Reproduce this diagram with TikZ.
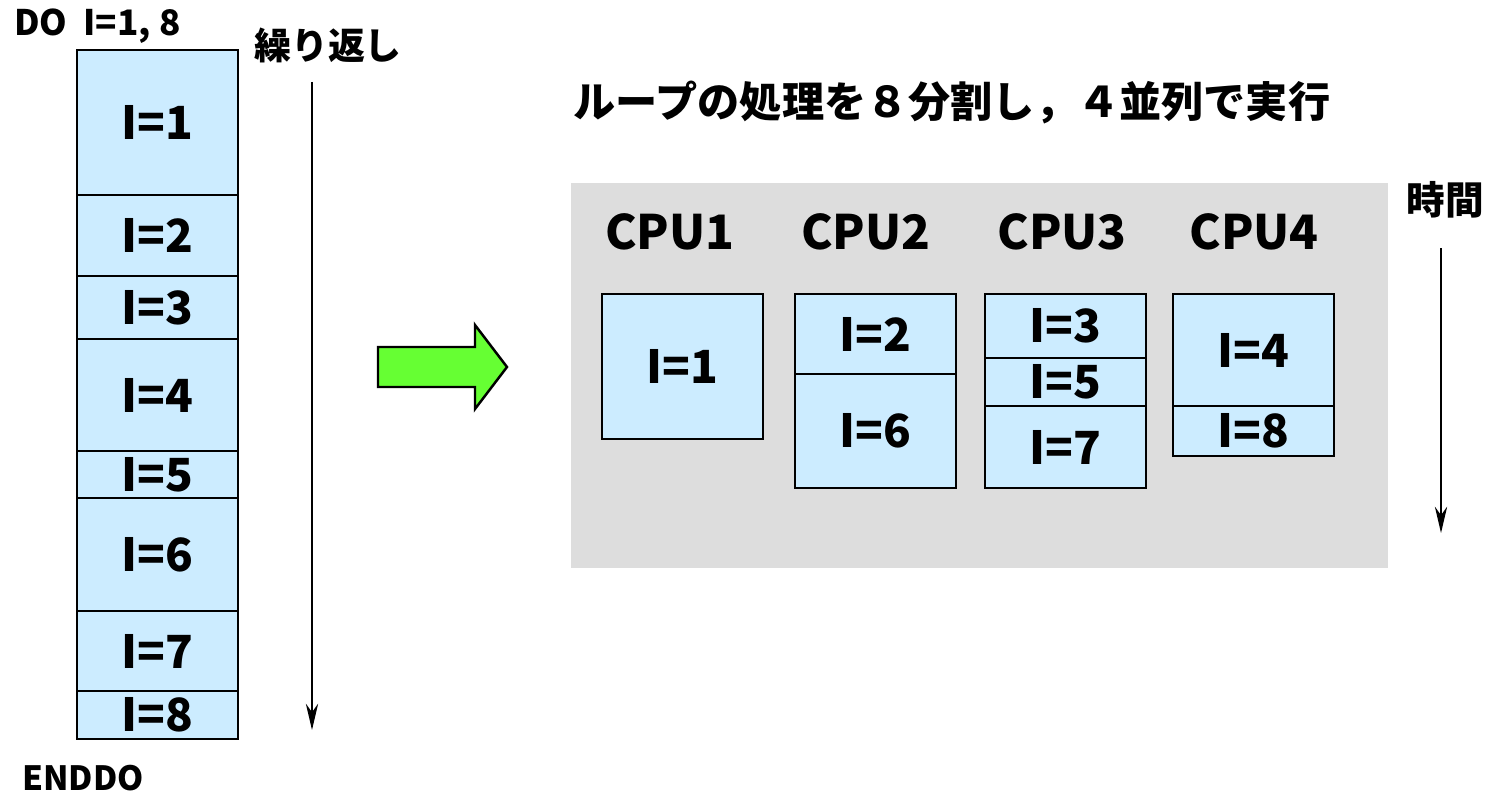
\documentclass[tikz,border=0pt]{standalone}
\usepackage{fontspec}
\setmainfont{Noto Sans CJK JP}
\usetikzlibrary{positioning}
\usetikzlibrary{arrows.meta}
\definecolor{cellblue}{RGB}{204,236,255}
\definecolor{panelgray}{RGB}{221,221,221}
\definecolor{arrowgreen}{RGB}{102,255,51}

\tikzset{
  cell/.style={draw, fill=cellblue, line width=1.4pt, inner sep=0pt, outer sep=0pt,
    minimum width=161*0.02cm, font=\fontsize{26}{30}\selectfont\bfseries},
  tall/.style={minimum height=#1*0.02cm},
  cpu/.style={font=\fontsize{27}{30}\selectfont\bfseries},
  lbl/.style={font=\fontsize{20}{24}\selectfont\bfseries, inner sep=0pt},
  flow/.style={line width=1pt, -{Stealth[length=15pt, width=7pt]}}
}

\begin{document}
\begin{tikzpicture}[x=0.02cm, y=-0.02cm]
		\useasboundingbox (0,0) rectangle (1493,797);
		% sequential loop
		\node[lbl, anchor=west] (do) at (14,26) {DO\ \ I=1, 8};
		\node[cell, tall=145, anchor=north west] (i1) at (77,50) {I=1};
		\node[cell, tall=81, below=0pt of i1] (i2) {I=2};
		\node[cell, tall=63, below=0pt of i2] (i3) {I=3};
		\node[cell, tall=112, below=0pt of i3] (i4) {I=4};
		\node[cell, tall=47, below=0pt of i4] (i5) {I=5};
		\node[cell, tall=113, below=0pt of i5] (i6) {I=6};
		\node[cell, tall=80, below=0pt of i6] (i7) {I=7};
		\node[cell, tall=48, below=0pt of i7] (i8) {I=8};
		\node[lbl, anchor=west, font=\fontsize{19}{24}\selectfont\bfseries] (enddo) at (22,778) {ENDDO};
		\node[lbl, font=\fontsize{21}{24}\selectfont\bfseries] (rep) at (328,45) {繰り返し};
		\coordinate (reptop) at (312,82);
		\coordinate (repbot) at (312,730);
		\draw[flow] (reptop) -- (repbot);
		% green arrow
		\draw[line width=1.4pt, fill=arrowgreen] (378,347) -- (475,347) -- (475,325) -- (507,367)
			-- (475,409) -- (475,387) -- (378,387) -- cycle;
		% parallel execution
		\node[lbl, font=\fontsize{24}{28}\selectfont\bfseries] (title) at (952,103) {ループの処理を８分割し，４並列で実行};
		\fill[panelgray] (571,183) rectangle (1388,568);
		\node[cpu] (cpu1) at (670,232) {CPU1};
		\node[cpu] (cpu2) at (866,232) {CPU2};
		\node[cpu] (cpu3) at (1062,232) {CPU3};
		\node[cpu] (cpu4) at (1254,232) {CPU4};
		\node[cell, tall=145, anchor=north west] (a1) at (602,294) {I=1};
		\node[cell, tall=80, anchor=north west] (b2) at (795,294) {I=2};
		\node[cell, tall=114, below=0pt of b2] (b6) {I=6};
		\node[cell, tall=64, anchor=north west] (c3) at (985,294) {I=3};
		\node[cell, tall=48, below=0pt of c3] (c5) {I=5};
		\node[cell, tall=82, below=0pt of c5] (c7) {I=7};
		\node[cell, tall=112, anchor=north west] (d4) at (1173,294) {I=4};
		\node[cell, tall=50, below=0pt of d4] (d8) {I=8};
		\node[lbl, font=\fontsize{22}{26}\selectfont\bfseries] (time) at (1445,200) {時間};
		\coordinate (timetop) at (1441,248);
		\coordinate (timebot) at (1441,533);
		\draw[flow] (timetop) -- (timebot);
	\end{tikzpicture}
\end{document}
